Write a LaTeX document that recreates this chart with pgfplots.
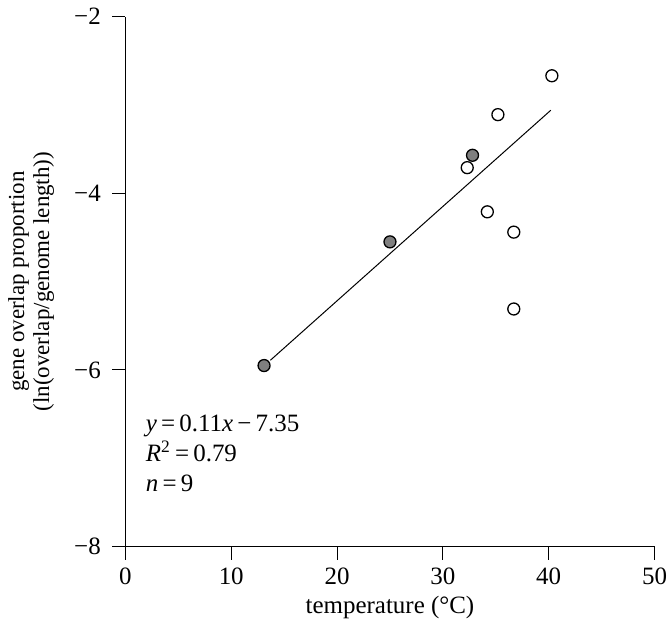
\documentclass[border=0pt]{standalone}
\usepackage{fontspec}
\setmainfont{Liberation Serif}
\usepackage{pgfplots}
\pgfplotsset{compat=1.18}
\definecolor{dotgray}{HTML}{7F7F7F}
\begin{document}
\fontsize{12.5}{14}\selectfont
\begin{tikzpicture}
\begin{axis}[
    scale only axis,
    width=265pt,
    height=265.5pt,
    xmin=0, xmax=50,
    ymin=-8, ymax=-2,
    axis lines*=left,
    axis line style={line width=0.5pt},
    tick align=outside,
    major tick length=6.5pt,
    tick style={line width=0.5pt, black},
    xtick={0,10,20,30,40,50},
    ytick={-8,-6,-4,-2},
    xticklabels={0,10,20,30,40,50},
    yticklabels={−8,−6,−4,−2},
    xticklabel style={inner xsep=0pt},
    yticklabel style={xshift=-1.5pt},
    minor tick num=0,
    xlabel={temperature (°C)},
    ylabel={gene overlap proportion\\(ln(overlap/genome length))},
    ylabel style={align=center, font=\fontsize{11.5}{12.5}\selectfont, yshift=1.5pt},
    xlabel style={yshift=3pt},
    clip=false,
]
% fitted line as drawn
\addplot[black, line width=0.5pt] coordinates {(13.7,-5.89) (40.2,-3.06)};
% open circles
\addplot[only marks, mark=*, mark size=3pt, mark options={fill=white, draw=black, line width=0.65pt}]
  coordinates {(32.3,-3.71) (35.2,-3.11) (40.3,-2.67) (34.2,-4.21) (36.7,-4.44) (36.7,-5.31)};
% filled circles
\addplot[only marks, mark=*, mark size=3pt, mark options={fill=dotgray, draw=black, line width=0.65pt}]
  coordinates {(13.1,-5.95) (25.0,-4.55) (32.8,-3.57)};
\node[anchor=north west, align=left, inner sep=0pt, font=\fontsize{12.5}{15}\selectfont]
  at (axis cs:1.9,-6.5) {\textit{y}\,=\,0.11\textit{x}\,−\,7.35\\\textit{R}\textsuperscript{2}\,=\,0.79\\\textit{n}\,=\,9};
\end{axis}
\end{tikzpicture}
\end{document}
